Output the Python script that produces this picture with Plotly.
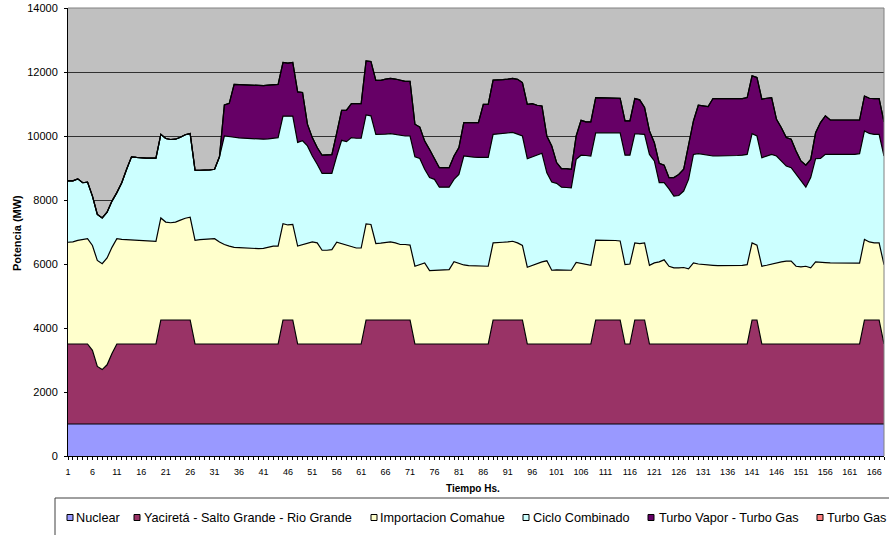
import plotly.graph_objects as go

hours = list(range(1, 169))

nuclear = [1000] * 168

yacireta = [
    2500, 2500, 2500, 2500, 2500, 2300, 1800, 1700, 1850, 2200, 2500, 2500,
    2500, 2500, 2500, 2500, 2500, 2500, 2500, 3250, 3250, 3250, 3250, 3250,
    3250, 3250, 2500, 2500, 2500, 2500, 2500, 2500, 2500, 2500, 2500, 2500,
    2500, 2500, 2500, 2500, 2500, 2500, 2500, 2500, 3250, 3250, 3250, 2500,
    2500, 2500, 2500, 2500, 2500, 2500, 2500, 2500, 2500, 2500, 2500, 2500,
    2500, 3250, 3250, 3250, 3250, 3250, 3250, 3250, 3250, 3250, 3250, 2500,
    2500, 2500, 2500, 2500, 2500, 2500, 2500, 2500, 2500, 2500, 2500, 2500,
    2500, 2500, 2500, 3250, 3250, 3250, 3250, 3250, 3250, 3250, 2500, 2500,
    2500, 2500, 2500, 2500, 2500, 2500, 2500, 2500, 2500, 2500, 2500, 2500,
    3250, 3250, 3250, 3250, 3250, 3250, 2500, 2500, 3250, 3250, 3250, 2500,
    2500, 2500, 2500, 2500, 2500, 2500, 2500, 2500, 2500, 2500, 2500, 2500,
    2500, 2500, 2500, 2500, 2500, 2500, 2500, 2500, 3250, 3250, 2500, 2500,
    2500, 2500, 2500, 2500, 2500, 2500, 2500, 2500, 2500, 2500, 2500, 2500,
    2500, 2500, 2500, 2500, 2500, 2500, 2500, 3250, 3250, 3250, 3250, 2500,
]

comahue = [
    3180, 3190, 3240, 3260, 3290, 3280, 3310, 3310, 3340, 3320, 3290, 3270,
    3260, 3240, 3230, 3220, 3210, 3210, 3210, 3190, 3060, 3040, 3060, 3120,
    3180, 3210, 3240, 3260, 3270, 3290, 3290, 3190, 3110, 3060, 3020, 3010,
    3000, 2990, 2990, 2980, 2990, 3030, 3060, 3060, 3010, 2970, 2985, 3060,
    3110, 3160, 3190, 3160, 2930, 2930, 2950, 3180, 3130, 3080, 3035, 3000,
    3000, 3005, 2985, 2390, 2400, 2420, 2440, 2410, 2360, 2360, 2340, 2430,
    2480, 2535, 2295, 2305, 2315, 2315, 2325, 2575, 2515, 2470, 2450, 2440,
    2430, 2430, 2430, 2410, 2410, 2430, 2440, 2460, 2410, 2330, 2400, 2460,
    2515, 2565, 2600, 2305, 2315, 2315, 2325, 2305, 2550, 2515, 2480, 2460,
    2495, 2495, 2495, 2485, 2485, 2470, 2480, 2500, 2410, 2390, 2410, 2460,
    2535, 2565, 2630, 2430, 2380, 2380, 2390, 2350, 2535, 2500, 2480, 2460,
    2460, 2450, 2450, 2450, 2450, 2460, 2460, 2480, 2410, 2340, 2430, 2460,
    2500, 2535, 2565, 2590, 2590, 2430, 2410, 2430, 2380, 2565, 2565, 2545,
    2535, 2535, 2535, 2525, 2525, 2525, 2525, 2520, 2440, 2410, 2410, 2480,
]

ciclo_combinado = [
    1920, 1910, 1920, 1780, 1770, 1540, 1440, 1430, 1430, 1445, 1440, 1770,
    2200, 2610, 2600, 2590, 2600, 2600, 2600, 2610, 2610, 2600, 2590, 2590,
    2610, 2615, 2190, 2170, 2160, 2150, 2170, 2660, 3390, 3430, 3440, 3430,
    3430, 3430, 3420, 3420, 3410, 3380, 3370, 3390, 3360, 3390, 3385, 3240,
    3240, 3030, 2685, 2455, 2400, 2400, 2380, 2695, 3235, 3245, 3415, 3430,
    3430, 3405, 3395, 3410, 3400, 3390, 3385, 3390, 3410, 3390, 3410, 3420,
    3320, 2925, 2905, 2840, 2585, 2575, 2575, 2570, 2785, 3405, 3400, 3400,
    3400, 3400, 3400, 3390, 3400, 3400, 3410, 3400, 3400, 3420, 3390, 3390,
    3385, 3395, 2750, 2755, 2705, 2585, 2565, 2575, 3220, 3385, 3410, 3415,
    3355, 3355, 3355, 3365, 3365, 3380, 3420, 3400, 3410, 3410, 3390, 3465,
    3185, 2475, 2410, 2420, 2240, 2260, 2390, 2795, 3390, 3450, 3445, 3440,
    3415, 3425, 3425, 3425, 3425, 3430, 3440, 3445, 3415, 3410, 3390, 3415,
    3425, 3340, 3155, 2970, 2920, 2870, 2690, 2470, 2820, 3225, 3235, 3380,
    3390, 3390, 3390, 3400, 3400, 3400, 3425, 3390, 3390, 3390, 3390, 3395,
]

turbo_vapor_turbo_gas = [
    0, 0, 0, 0, 0, 0, 0, 0, 0, 0, 0, 0,
    0, 0, 0, 0, 0, 0, 0, 0, 0, 0, 0, 0,
    0, 0, 0, 0, 0, 0, 0, 0, 970, 1030, 1655, 1670,
    1670, 1670, 1670, 1670, 1675, 1680, 1675, 1665, 1680, 1670, 1680, 1580,
    1510, 680, 575, 525, 570, 580, 590, 725, 935, 985, 1060, 1080,
    1080, 1690, 1700, 1690, 1690, 1715, 1725, 1730, 1715, 1710, 1710, 1020,
    980, 880, 880, 645, 610, 620, 610, 730, 840, 1045, 1070, 1080,
    1090, 1660, 1660, 1695, 1685, 1680, 1675, 1690, 1710, 1670, 1700, 1660,
    1560, 1480, 1150, 1130, 650, 580, 590, 580, 730, 1090, 1050, 1065,
    1100, 1100, 1100, 1090, 1090, 1080, 1070, 1070, 1100, 1080, 840, 735,
    570, 605, 550, 350, 580, 660, 680, 1045, 1045, 1510, 1515, 1520,
    1795, 1795, 1795, 1795, 1795, 1780, 1770, 1775, 1805, 1830, 1830, 1805,
    1775, 1145, 1040, 890, 890, 730, 620, 690, 570, 810, 1120, 1205,
    1075, 1075, 1075, 1075, 1075, 1075, 1050, 1090, 1100, 1120, 1120, 1065,
]

turbo_gas = [0] * 168

series_names = ["Nuclear", "Yaciretá - Salto Grande - Rio Grande", "Importacion Comahue",
                "Ciclo Combinado", "Turbo Vapor - Turbo Gas", "Turbo Gas"]
series_values = [nuclear, yacireta, comahue, ciclo_combinado, turbo_vapor_turbo_gas, turbo_gas]
series_colors = ["#9999FF", "#993366", "#FFFFCC", "#CCFFFF", "#660066", "#FF8080"]

x_tick_vals = list(range(1, 167, 5))
y_tick_vals = [0, 2000, 4000, 6000, 8000, 10000, 12000, 14000]

FONT = "Liberation Sans, Arial, sans-serif"

fig = go.Figure()
for name, vals, col in zip(series_names, series_values, series_colors):
    fig.add_trace(go.Scatter(
        x=hours, y=vals, name=name, mode="lines", stackgroup="one",
        line=dict(color="#000000", width=1.2), fillcolor=col, showlegend=False,
    ))

W, H = 889, 535
L, R, T, B = 68, 5, 8, 79
pw, ph = W - L - R, H - T - B


def px(xp):
    return (xp - L) / pw


def py(yp):
    return (H - B - yp) / ph


shapes = [
    dict(type="line", xref="paper", yref="paper", x0=0, x1=1, y0=1, y1=1,
         line=dict(color="#808080", width=1)),
    dict(type="line", xref="paper", yref="paper", x0=1, x1=1, y0=0, y1=1,
         line=dict(color="#808080", width=1)),
    dict(type="rect", xref="paper", yref="paper", x0=px(55), x1=px(905),
         y0=py(550), y1=py(498), line=dict(color="#404040", width=1), fillcolor="rgba(0,0,0,0)"),
]
annotations = []
legend_sq = [67, 134, 371, 523, 648, 817]
legend_tx = [74, 142, 377.5, 530.5, 657, 825]
for name, col, sx, tx in zip(series_names, series_colors, legend_sq, legend_tx):
    shapes.append(dict(type="rect", xref="paper", yref="paper", x0=px(sx), x1=px(sx + 6),
                       y0=py(520.5), y1=py(514.5), line=dict(color="#000000", width=1),
                       fillcolor=col))
    annotations.append(dict(xref="paper", yref="paper", x=px(tx), y=py(517.5), text=name,
                            showarrow=False, xanchor="left", yanchor="middle",
                            font=dict(family=FONT, size=12.7, color="#000000")))

annotations.append(dict(xref="paper", yref="paper", x=px(473), y=py(488), text="<b>Tiempo Hs.</b>",
                        showarrow=False, xanchor="center", yanchor="middle",
                        font=dict(family=FONT, size=10, color="#000000")))
annotations.append(dict(xref="paper", yref="paper", x=px(17), y=py(233), text="<b>Potencia (MW)</b>",
                        showarrow=False, xanchor="center", yanchor="middle", textangle=-90,
                        font=dict(family=FONT, size=11, color="#000000")))

fig.update_layout(
    width=W, height=H,
    margin=dict(l=L, r=R, t=T, b=B, pad=0, autoexpand=False),
    paper_bgcolor="#FFFFFF", plot_bgcolor="#C0C0C0",
    showlegend=False,
    shapes=shapes, annotations=annotations,
    font=dict(family=FONT, color="#000000"),
)
fig.update_xaxes(
    range=[1, 168], tickmode="array", tickvals=x_tick_vals, ticktext=[str(v) for v in x_tick_vals],
    ticks="outside", ticklen=3, tickcolor="#000000", showgrid=False, zeroline=False,
    showline=True, linecolor="#000000", linewidth=1, tickfont=dict(family=FONT, size=9),
    ticklabelstandoff=4, automargin=False,
    minor=dict(ticks="outside", dtick=1, tick0=1, ticklen=3, tickcolor="#000000", showgrid=False),
)
fig.update_yaxes(
    range=[0, 14000], tickmode="array", tickvals=y_tick_vals, ticktext=[str(v) for v in y_tick_vals],
    ticks="outside", ticklen=3, tickcolor="#000000", showgrid=True, gridcolor="#303030", gridwidth=1,
    zeroline=False, showline=True, linecolor="#000000", linewidth=1,
    tickfont=dict(family=FONT, size=11), ticklabelstandoff=4, automargin=False,
)

fig.write_html(
    "out.html",
    config={"displayModeBar": False},
    post_script="document.body.style.margin='0px';document.body.style.overflow='hidden';",
)
